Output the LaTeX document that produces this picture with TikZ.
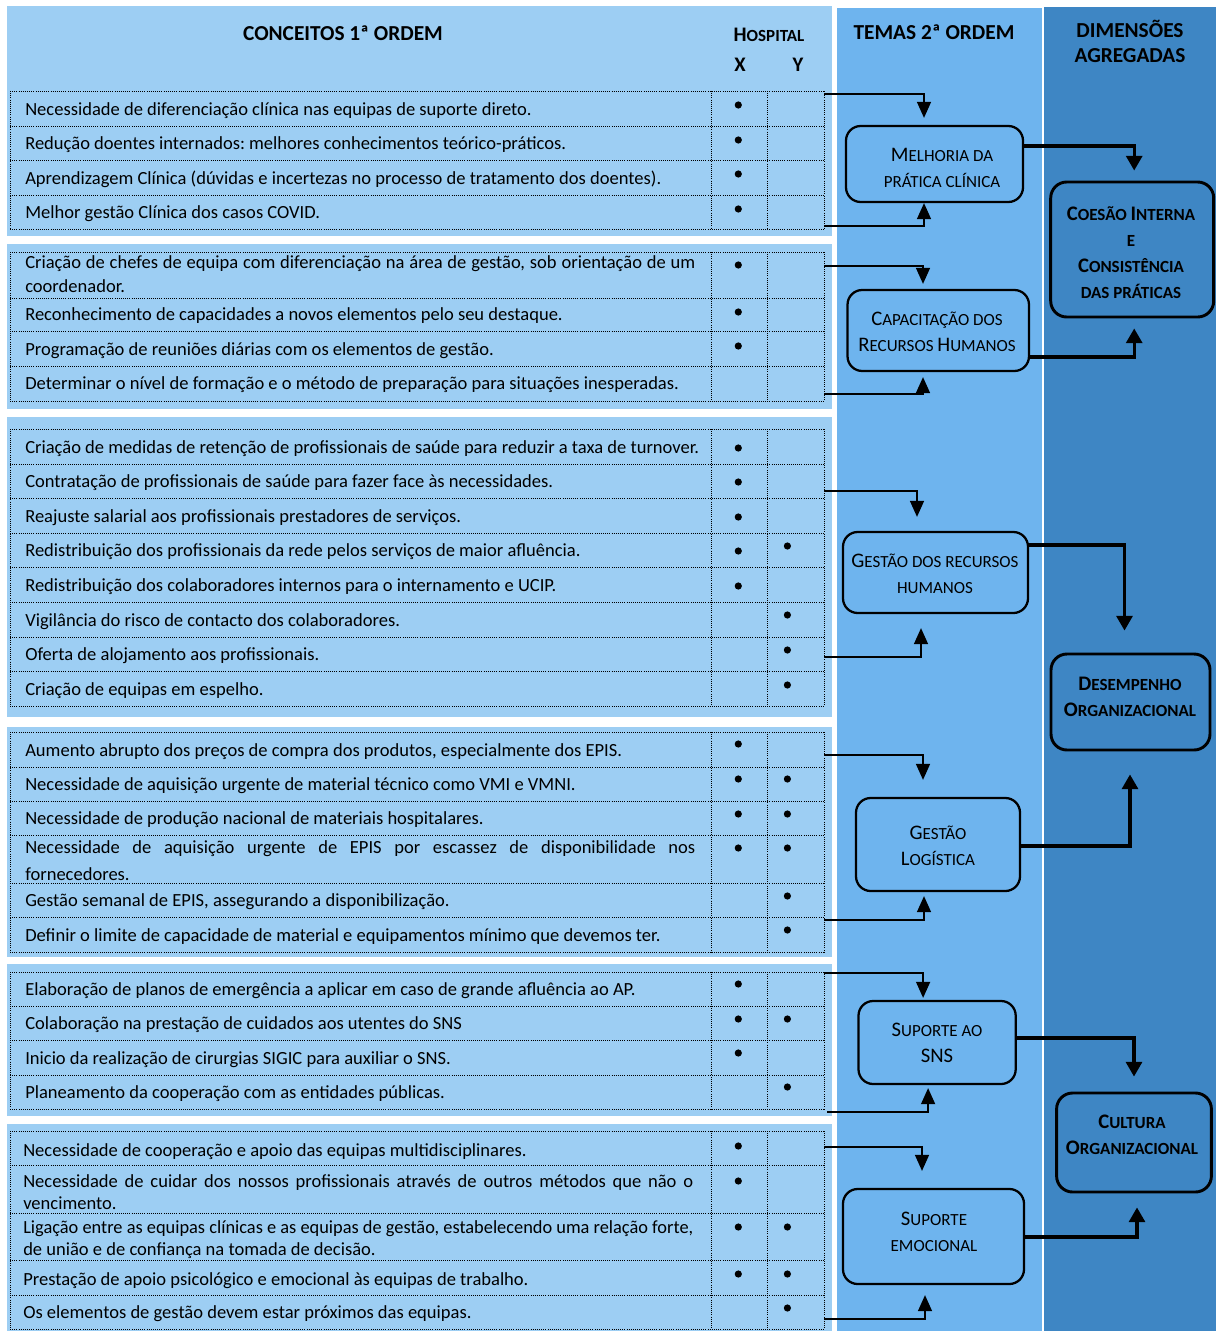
\documentclass[tikz,border=0pt]{standalone}
\usepackage{fontspec}
\usepackage{graphicx}
\setmainfont{Carlito}
\usetikzlibrary{arrows.meta,calc}
\definecolor{lightp}{RGB}{157,206,243}
\definecolor{midp}{RGB}{110,180,238}
\definecolor{darkp}{RGB}{62,134,196}
\newcommand\BC[1]{{\fontsize{15.5}{19.5}\selectfont #1}}
\newcommand\dotx[1]{\fill (738.3,#1) circle[radius=2.7pt];}
\newcommand\doty[1]{\fill (787.4,#1) circle[radius=2.7pt];}
\newlength\jlen
\newcommand\jline[1]{\settowidth\jlen{#1}\ifdim\jlen>502.5pt\relax\resizebox{502.5pt}{\height}{#1}\else\makebox[502.5pt][s]{#1}\fi}
\frenchspacing
\begin{document}
\begin{tikzpicture}[x=0.75pt,y=-0.75pt,
  gridl/.style={black, densely dotted, line width=0.6pt},
  rowt/.style={anchor=base west, inner sep=0pt, font=\fontsize{13.9}{16}\selectfont},
  mbox/.style={draw=black, line width=1.7pt, rounded corners=11pt, fill=midp, inner sep=0pt},
  dbox/.style={draw=black, line width=2.2pt, rounded corners=12pt, fill=darkp, inner sep=0pt},
  mtxt/.style={align=center, inner sep=0pt, font=\fontsize{12.75}{19.5}\selectfont},
  dtxt/.style={align=center, inner sep=0pt, font=\bfseries\fontsize{12.75}{19.5}\selectfont},
  thinarr/.style={line width=1.1pt, -{Triangle[width=10.5pt,length=12pt]}},
  thickarr/.style={line width=2.3pt, -{Triangle[width=12pt,length=11pt]}},
  head/.style={inner sep=0pt, anchor=base, font=\bfseries\fontsize{16}{19.5}\selectfont}
]
\useasboundingbox (0,0) rectangle (1216,1331);
\fill[white] (0,0) rectangle (1216,1331);
% panels
\fill[lightp] (7,6) rectangle (832,236);
\fill[lightp] (7,244) rectangle (832,409);
\fill[lightp] (7,417) rectangle (832,717);
\fill[lightp] (7,727) rectangle (832,957);
\fill[lightp] (7,964) rectangle (832,1116);
\fill[lightp] (7,1124) rectangle (832,1331);
\fill[midp] (837,8) rectangle (1042,1331);
\fill[darkp] (1044,7) rectangle (1216,1331);
% headers
\node[head] (h1) at (343,41) {CONCEITOS 1ª ORDEM};
\node[head] (h2) at (769,42) {\BC{H}{\fontsize{12.75}{14}\selectfont OSPITAL}};
\node[head] (hx) at (740,72) {\BC{X}};
\node[head] (hy) at (798,72) {\BC{Y}};
\node[head] (h3) at (934,40) {TEMAS 2ª ORDEM};
\node[head] (h4) at (1130,38) {DIMENSÕES};
\node[head] (h5) at (1130,63) {AGREGADAS};
% grids
\foreach \y in {91,126,160,195,229} \draw[gridl] (10,\y) -- (824,\y);
\foreach \x in {10,711,767,824} \draw[gridl] (\x,91) -- (\x,229);
\foreach \y in {252,298,331,366,401} \draw[gridl] (10,\y) -- (824,\y);
\foreach \x in {10,711,767,824} \draw[gridl] (\x,252) -- (\x,401);
\foreach \y in {429,464,498,533,567,602,637,671,706} \draw[gridl] (10,\y) -- (824,\y);
\foreach \x in {10,711,767,824} \draw[gridl] (\x,429) -- (\x,706);
\foreach \y in {732,767,801,835,883,917,952} \draw[gridl] (10,\y) -- (824,\y);
\foreach \x in {10,711,767,824} \draw[gridl] (\x,732) -- (\x,952);
\foreach \y in {972,1006,1040,1075,1109} \draw[gridl] (10,\y) -- (824,\y);
\foreach \x in {10,711,767,824} \draw[gridl] (\x,972) -- (\x,1109);
\foreach \y in {1131,1165,1213,1260,1295,1329} \draw[gridl] (10,\y) -- (824,\y);
\foreach \x in {10,711,767,824} \draw[gridl] (\x,1131) -- (\x,1329);
% group 1
\node[rowt] (a1) at (25,115.5) {Necessidade de diferenciação clínica nas equipas de suporte direto.};
\node[rowt] (a2) at (25,149.5) {Redução doentes internados: melhores conhecimentos teórico-práticos.};
\node[rowt] (a3) at (25,184.5) {Aprendizagem Clínica (dúvidas e incertezas no processo de tratamento dos doentes).};
\node[rowt] (a4) at (25,218.5) {Melhor gestão Clínica dos casos COVID.};
\dotx{105}\dotx{140}\dotx{174}\dotx{209}
% group 2
\node[rowt] (b1) at (25,268.5) {\jline{Criação de chefes de equipa com diferenciação na área de gestão, sob orientação de um}};
\node[rowt] (b1b) at (25,292.5) {coordenador.};
\node[rowt] (b2) at (25,320.5) {Reconhecimento de capacidades a novos elementos pelo seu destaque.};
\node[rowt] (b3) at (25,355) {Programação de reuniões diárias com os elementos de gestão.};
\node[rowt] (b4) at (25,389) {Determinar o nível de formação e o método de preparação para situações inesperadas.};
\dotx{265}\dotx{312}\dotx{346}
% group 3
\node[rowt] (c1) at (25,453) {Criação de medidas de retenção de profissionais de saúde para reduzir a taxa de turnover.};
\node[rowt] (c2) at (25,487) {Contratação de profissionais de saúde para fazer face às necessidades.};
\node[rowt] (c3) at (25,522) {Reajuste salarial aos profissionais prestadores de serviços.};
\node[rowt] (c4) at (25,556) {Redistribuição dos profissionais da rede pelos serviços de maior afluência.};
\node[rowt] (c5) at (25,591) {Redistribuição dos colaboradores internos para o internamento e UCIP.};
\node[rowt] (c6) at (25,626) {Vigilância do risco de contacto dos colaboradores.};
\node[rowt] (c7) at (25,660) {Oferta de alojamento aos profissionais.};
\node[rowt] (c8) at (25,695) {Criação de equipas em espelho.};
\dotx{448}\dotx{482}\dotx{517}\dotx{551}\dotx{586}
\doty{546}\doty{615}\doty{650}\doty{685}
% group 4
\node[rowt] (d1) at (25,756) {Aumento abrupto dos preços de compra dos produtos, especialmente dos EPIS.};
\node[rowt] (d2) at (25,790) {Necessidade de aquisição urgente de material técnico como VMI e VMNI.};
\node[rowt] (d3) at (25,824) {Necessidade de produção nacional de materiais hospitalares.};
\node[rowt] (d4) at (25,853.5) {\jline{Necessidade de aquisição urgente de EPIS por escassez de disponibilidade nos}};
\node[rowt] (d4b) at (25,880.5) {fornecedores.};
\node[rowt] (d5) at (25,906) {Gestão semanal de EPIS, assegurando a disponibilização.};
\node[rowt] (d6) at (25,941) {Definir o limite de capacidade de material e equipamentos mínimo que devemos ter.};
\dotx{744}\dotx{779}\dotx{814}\dotx{848}
\doty{779}\doty{814}\doty{848}\doty{896}\doty{930}
% group 5
\node[rowt] (e1) at (25,995) {Elaboração de planos de emergência a aplicar em caso de grande afluência ao AP.};
\node[rowt] (e2) at (25,1029) {Colaboração na prestação de cuidados aos utentes do SNS};
\node[rowt] (e3) at (25,1064) {Inicio da realização de cirurgias SIGIC para auxiliar o SNS.};
\node[rowt] (e4) at (25,1098) {Planeamento da cooperação com as entidades públicas.};
\dotx{984}\dotx{1019}\dotx{1053}
\doty{1019}\doty{1087}
% group 6
\node[rowt] (f1) at (23,1156) {Necessidade de cooperação e apoio das equipas multidisciplinares.};
\node[rowt] (f2) at (23,1187) {\jline{Necessidade de cuidar dos nossos profissionais através de outros métodos que não o}};
\node[rowt] (f2b) at (23,1209) {vencimento.};
\node[rowt] (f3) at (23,1233) {\jline{Ligação entre as equipas clínicas e as equipas de gestão, estabelecendo uma relação forte,}};
\node[rowt] (f3b) at (23,1255) {de união e de confiança na tomada de decisão.};
\node[rowt] (f4) at (23,1285) {Prestação de apoio psicológico e emocional às equipas de trabalho.};
\node[rowt] (f5) at (23,1318) {Os elementos de gestão devem estar próximos das equipas.};
\dotx{1146}\dotx{1181}\dotx{1227}\dotx{1274}
\doty{1227}\doty{1274}\doty{1308}
% middle boxes
\node[mbox, minimum width=132.75pt, minimum height=57pt] (m1) at (934.5,164) {};
\node[mbox, minimum width=136.1pt, minimum height=60.75pt] (m2) at (938.25,330.5) {};
\node[mbox, minimum width=138.75pt, minimum height=60.75pt] (m3) at (935.5,572.5) {};
\node[mbox, minimum width=123pt, minimum height=69.75pt] (m4) at (938,844.5) {};
\node[mbox, minimum width=117.9pt, minimum height=62.25pt] (m5) at (937.1,1042.5) {};
\node[mbox, minimum width=135.75pt, minimum height=71.25pt] (m6) at (933.5,1236.5) {};
\node[mtxt] (m1t) at (942,168) {\BC{M}ELHORIA DA\\PRÁTICA CLÍNICA};
\node[mtxt] (m2t) at (937,332) {\BC{C}APACITAÇÃO DOS\\\BC{R}ECURSOS \BC{H}UMANOS};
\node[mtxt] (m3t) at (935,574) {\BC{G}ESTÃO DOS RECURSOS\\HUMANOS};
\node[mtxt] (m4t) at (938,845.5) {\BC{G}ESTÃO\\\BC{L}OGÍSTICA};
\node[mtxt] (m5t) at (937,1043) {\BC{S}UPORTE AO\\\BC{SNS}};
\node[mtxt] (m6t) at (934,1232) {\BC{S}UPORTE\\EMOCIONAL};
% right boxes
\node[dbox, minimum width=122.25pt, minimum height=101.25pt] (cA) at (1132.2,249.5) {};
\node[dbox, minimum width=119.25pt, minimum height=72pt] (cB) at (1130.5,702) {};
\node[dbox, minimum width=116.1pt, minimum height=74.25pt] (cC) at (1134,1142.5) {};
\node[dtxt] (cAt) at (1131,253) {\BC{C}OESÃO \BC{I}NTERNA\\E\\\BC{C}ONSISTÊNCIA\\DAS PRÁTICAS};
\node[dtxt] (cBt) at (1130,697) {\BC{D}ESEMPENHO\\\BC{O}RGANIZACIONAL};
\node[dtxt] (cCt) at (1132,1135) {\BC{C}ULTURA\\\BC{O}RGANIZACIONAL};
% connector start points on the table edge
\coordinate (g1a) at (824,94);   \coordinate (g1b) at (824,226);
\coordinate (g2a) at (824,266);  \coordinate (g2b) at (824,394);
\coordinate (g3a) at (824,491);  \coordinate (g3b) at (824,657);
\coordinate (g4a) at (824,755);  \coordinate (g4b) at (824,920);
\coordinate (g5a) at (824,973);  \coordinate (g5b) at (827,1112);
\coordinate (g6a) at (824,1147); \coordinate (g6b) at (824,1319);
% thin connectors
\draw[thinarr] (g1a) -| ($(m1.north)+(-10.5,-7)$);
\draw[thinarr] (g1b) -| ($(m1.south)+(-10.5,0)$);
\draw[thinarr] (g2a) -| ($(m2.north)+(-15.25,-5)$);
\draw[thinarr] (g2b) -| ($(m2.south)+(-15.25,5)$);
\draw[thinarr] (g3a) -| ($(m3.north)+(-18.5,-14)$);
\draw[thinarr] (g3b) -| ($(m3.south)+(-14.5,14)$);
\draw[thinarr] (g4a) -| ($(m4.north)+(-15,-17)$);
\draw[thinarr] (g4b) -| ($(m4.south)+(-14,4)$);
\draw[thinarr] (g5a) -| ($(m5.north)+(-14,-2)$);
\draw[thinarr] (g5b) -| ($(m5.south)+(-9,3)$);
\draw[thinarr] (g6a) -| ($(m6.north)+(-11.5,-17)$);
\draw[thinarr] (g6b) -| ($(m6.south)+(-8.5,10)$);
% thick connectors
\draw[thickarr] ($(m1.east)+(0,-18)$) -| ($(cA.north)+(2,-10)$);
\draw[thickarr] ($(m2.east)+(0,26.5)$) -| ($(cA.south)+(2,10)$);
\draw[thickarr] ($(m3.east)+(0,-27.5)$) -| ($(cB.north)+(-6,-22)$);
\draw[thickarr] ($(m4.east)+(0,1.5)$) -| ($(cB.south)+(-0.5,23)$);
\draw[thickarr] ($(m5.east)+(0,-4.5)$) -| ($(cC.north)+(0,-15)$);
\draw[thickarr] ($(m6.east)+(0,0.5)$) -| ($(cC.south)+(3,14)$);
\end{tikzpicture}
\end{document}
